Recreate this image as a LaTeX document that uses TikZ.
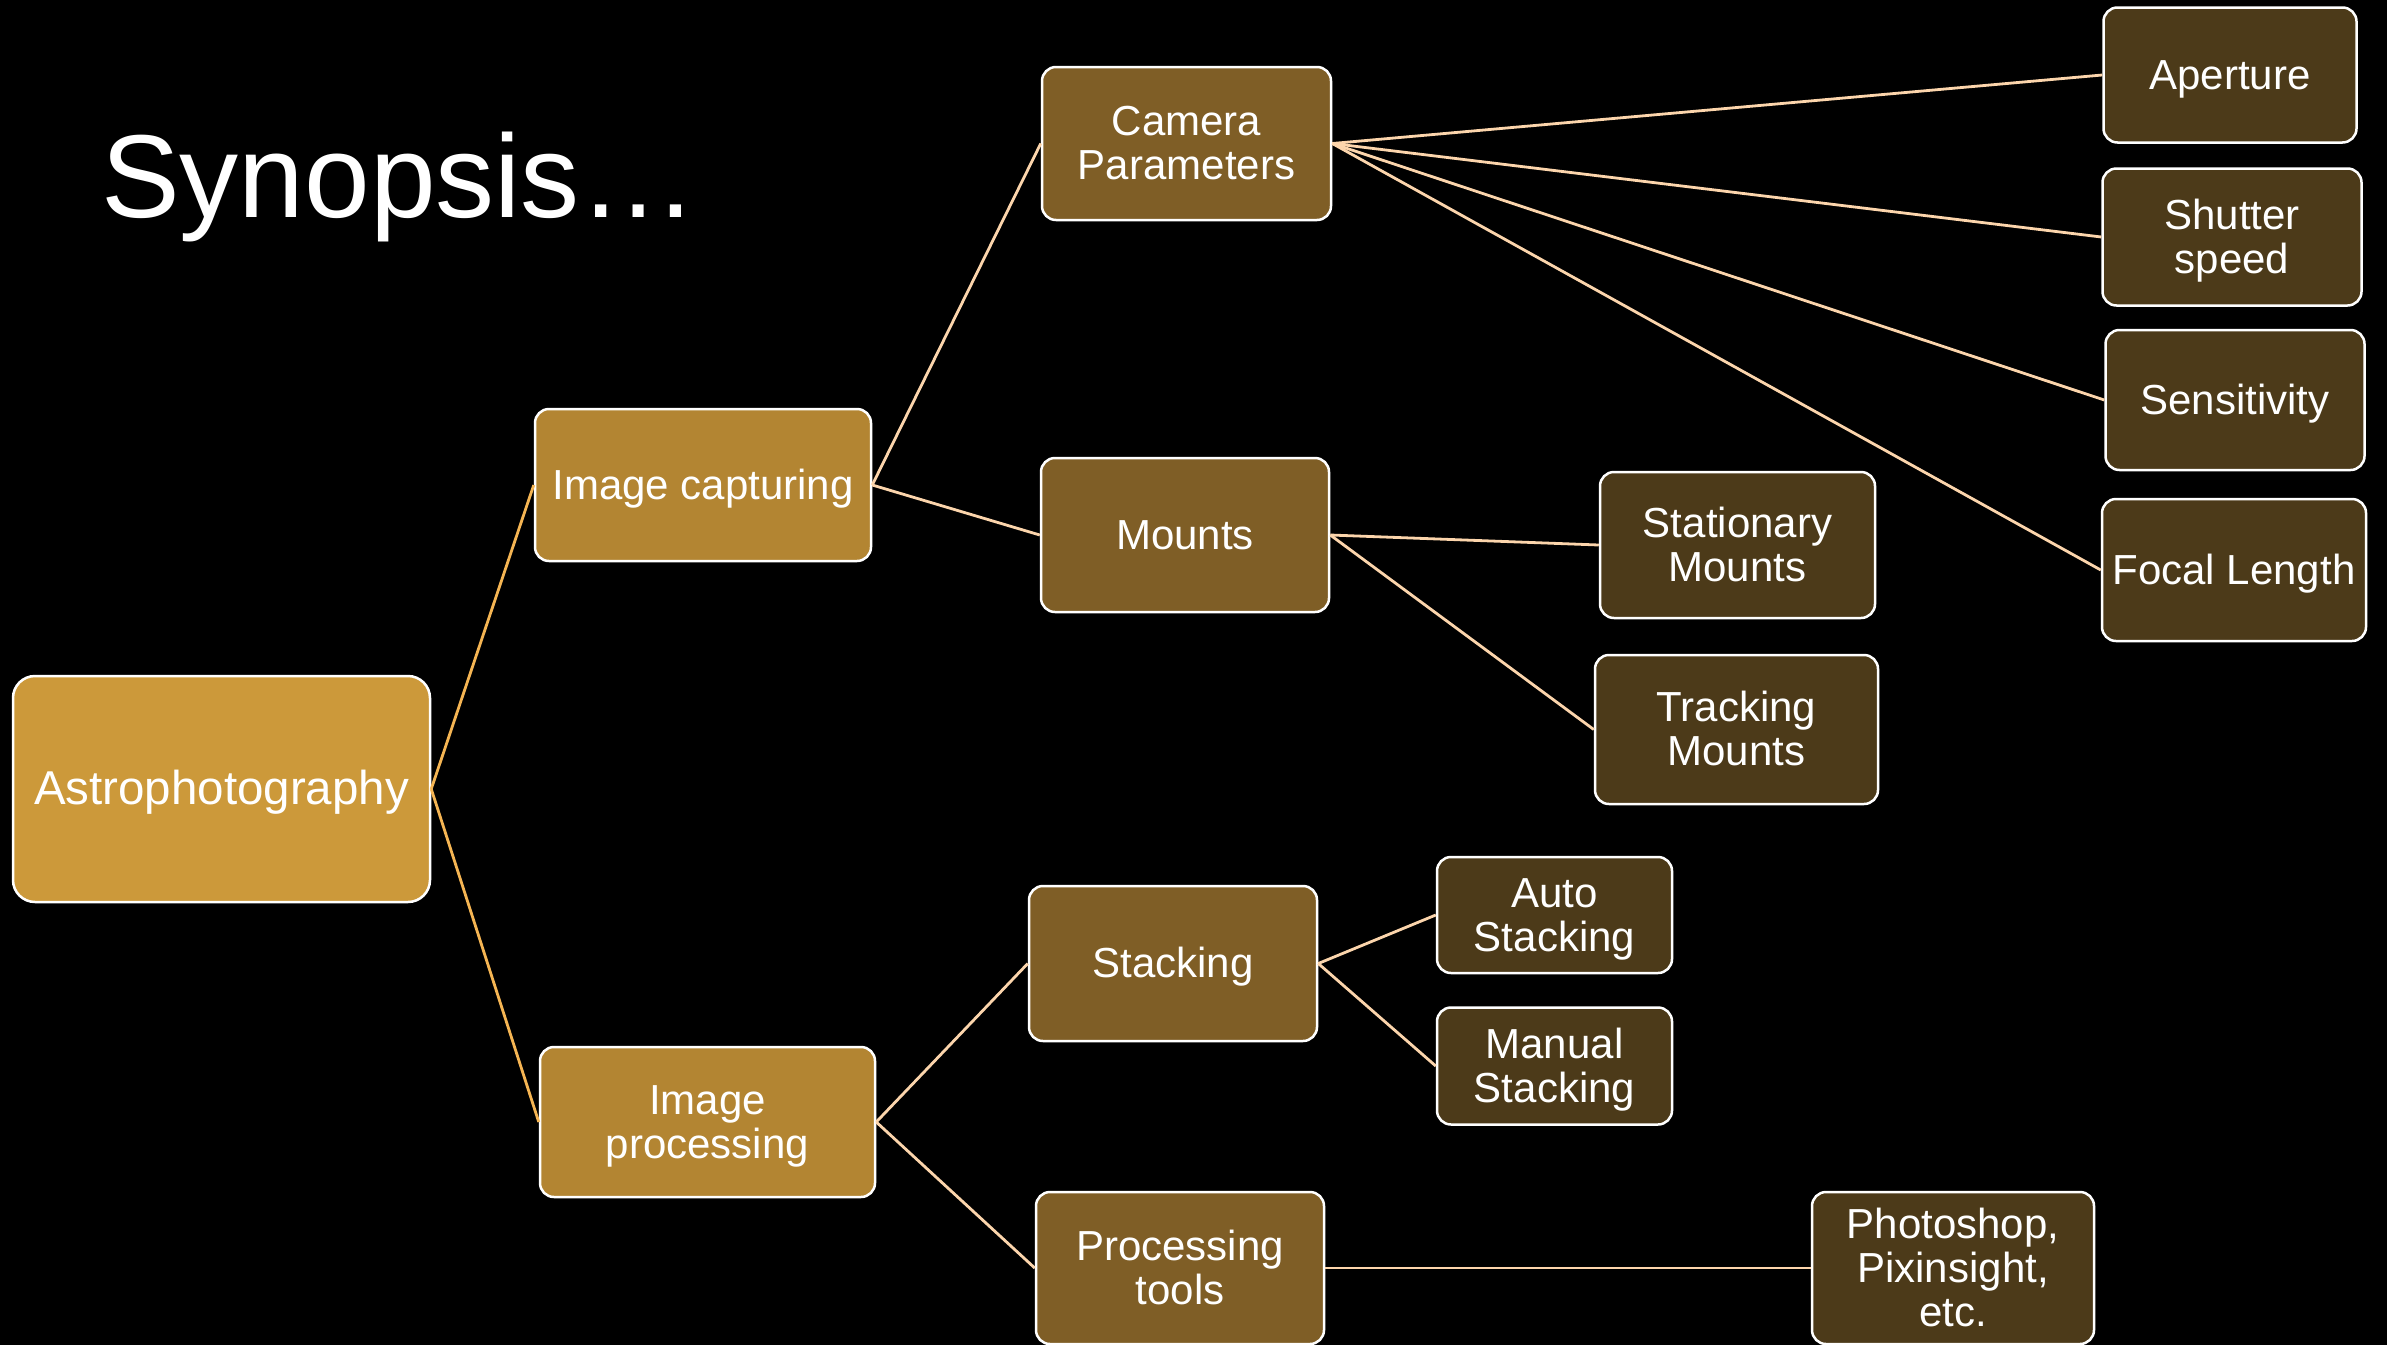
\documentclass[tikz,border=0pt]{standalone}
\usepackage{fontspec}
\setmainfont{Liberation Sans}
\definecolor{lvA}{RGB}{204,153,58}
\definecolor{lvB}{RGB}{179,133,50}
\definecolor{lvC}{RGB}{127,94,38}
\definecolor{lvD}{RGB}{76,58,25}
\definecolor{connA}{RGB}{245,181,83}
\definecolor{connB}{RGB}{252,213,172}
\tikzset{
  box/.style={draw=white, line width=2.5pt, rounded corners=14pt, text=white,
    align=center, inner sep=0pt, font=\fontsize{42}{44}\selectfont,
    text height=28pt, text depth=0pt},
  twolines/.style={text height=72pt},
  threelines/.style={text height=116pt},
  conna/.style={draw=connA, line width=2.8pt},
  connb/.style={draw=connB, line width=2.8pt},
}
\begin{document}
\begin{tikzpicture}[x=1pt,y=-1pt]
\useasboundingbox (0,0) rectangle (2387,1344);
\fill[black] (-10,-10) rectangle (2397,1354);

\node[anchor=base west, inner sep=0pt, text=white, font=\fontsize{118}{128}\selectfont] (title) at (101,217) {Synopsis…};

% level 1
\node[box, fill=lvA, rounded corners=22pt, minimum width=417pt, minimum height=226pt, font=\fontsize{47.5}{50}\selectfont, text height=31pt] (root) at (221.5,789) {Astrophotography};
% level 2
\node[box, fill=lvB, minimum width=336pt, minimum height=152pt] (cap) at (703,485) {Image capturing};
\node[box, fill=lvB, twolines, minimum width=335pt, minimum height=150pt] (proc) at (707.5,1122) {Image\\processing};
% level 3
\node[box, fill=lvC, twolines, minimum width=289pt, minimum height=153pt] (cam) at (1186.5,143.5) {Camera\\Parameters};
\node[box, fill=lvC, minimum width=288pt, minimum height=154pt] (mounts) at (1185,535) {Mounts};
\node[box, fill=lvC, minimum width=288pt, minimum height=155pt] (stack) at (1173,963.5) {Stacking};
\node[box, fill=lvC, twolines, minimum width=288pt, minimum height=152pt] (tools) at (1180,1268) {Processing\\tools};
% level 4
\node[box, fill=lvD, minimum width=253pt, minimum height=135pt] (ap) at (2230,75) {Aperture};
\node[box, fill=lvD, twolines, minimum width=259pt, minimum height=137pt] (sh) at (2232,237) {Shutter\\speed};
\node[box, fill=lvD, minimum width=259pt, minimum height=140pt] (sens) at (2235,400) {Sensitivity};
\node[box, fill=lvD, minimum width=264pt, minimum height=142pt] (focal) at (2234,570) {Focal Length};
\node[box, fill=lvD, twolines, minimum width=275pt, minimum height=146pt] (stat) at (1737.5,545) {Stationary\\Mounts};
\node[box, fill=lvD, twolines, minimum width=283pt, minimum height=149pt] (track) at (1736.5,729.5) {Tracking\\Mounts};
\node[box, fill=lvD, twolines, minimum width=235pt, minimum height=116pt] (auto) at (1554.5,915) {Auto\\Stacking};
\node[box, fill=lvD, twolines, minimum width=235pt, minimum height=117pt] (man) at (1554.5,1066) {Manual\\Stacking};
\node[box, fill=lvD, threelines, minimum width=282pt, minimum height=152pt] (ps) at (1953,1268) {Photoshop,\\Pixinsight,\\etc.};

% connectors
\draw[conna] (root.east) -- (cap.west);
\draw[conna] (root.east) -- (proc.west);
\draw[connb] (cap.east) -- (cam.west);
\draw[connb] (cap.east) -- (mounts.west);
\draw[connb] (proc.east) -- (stack.west);
\draw[connb] (proc.east) -- (tools.west);
\draw[connb] (cam.east) -- (ap.west);
\draw[connb] (cam.east) -- (sh.west);
\draw[connb] (cam.east) -- (sens.west);
\draw[connb] (cam.east) -- (focal.west);
\draw[connb] (mounts.east) -- (stat.west);
\draw[connb] (mounts.east) -- (track.west);
\draw[connb] (stack.east) -- (auto.west);
\draw[connb] (stack.east) -- (man.west);
\draw[connb] (tools.east) -- (ps.west);
\end{tikzpicture}
\end{document}
